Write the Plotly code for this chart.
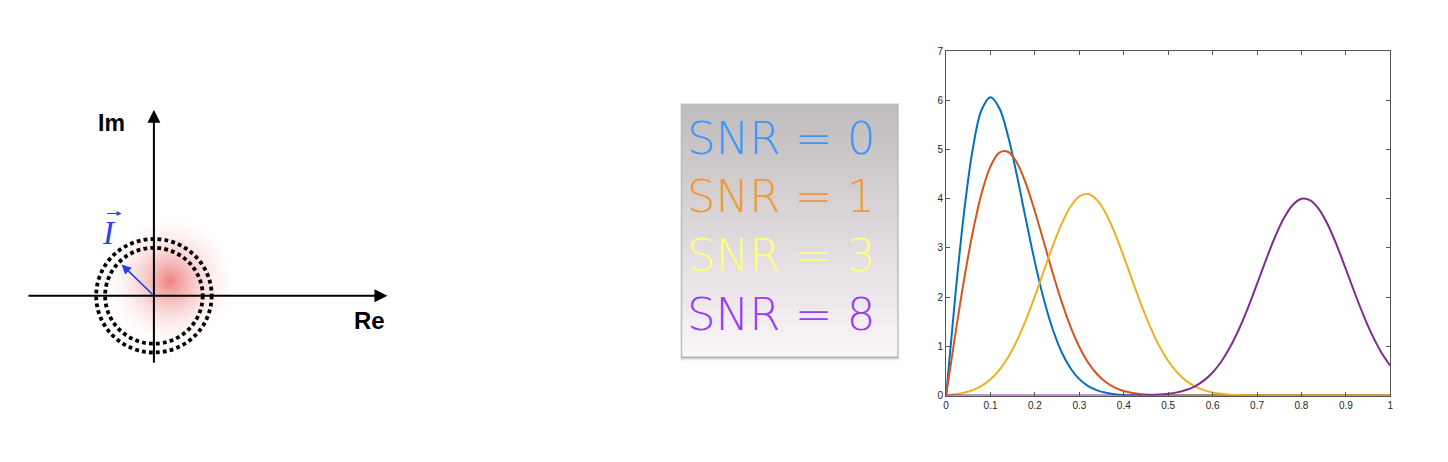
import plotly.graph_objects as go

# %% data: Rice pdfs for 4 SNR values
x_vals = [round(0.02 * i, 2) for i in range(51)]

snr_0 = [0, 1.960, 3.692, 5.012, 5.809, 6.065, 5.841, 5.254, 4.449, 3.562,
         2.707, 1.956, 1.347, 0.885, 0.556, 0.333, 0.191, 0.105, 0.055, 0.028,
         0.013, 0.006, 0.003, 0.001, 0, 0, 0, 0, 0, 0,
         0, 0, 0, 0, 0, 0, 0, 0, 0, 0,
         0, 0, 0, 0, 0, 0, 0, 0, 0, 0, 0]
snr_1 = [0, 1.201, 2.330, 3.320, 4.110, 4.658, 4.938, 4.951, 4.722, 4.299,
         3.742, 3.119, 2.492, 1.908, 1.401, 0.987, 0.666, 0.432, 0.269, 0.161,
         0.092, 0.051, 0.027, 0.014, 0.007, 0.003, 0.001, 0.001, 0, 0,
         0, 0, 0, 0, 0, 0, 0, 0, 0, 0,
         0, 0, 0, 0, 0, 0, 0, 0, 0, 0, 0]
snr_3 = [0, 0.024, 0.057, 0.111, 0.197, 0.329, 0.521, 0.785, 1.127, 1.543,
         2.021, 2.532, 3.037, 3.488, 3.838, 4.049, 4.095, 3.971, 3.695, 3.298,
         2.825, 2.322, 1.831, 1.387, 1.008, 0.703, 0.471, 0.303, 0.187, 0.111,
         0.063, 0.035, 0.018, 0.009, 0.004, 0.002, 0.001, 0, 0, 0,
         0, 0, 0, 0, 0, 0, 0, 0, 0, 0, 0]
snr_8 = [0, 0, 0, 0, 0, 0, 0, 0, 0, 0,
         0, 0, 0, 0, 0, 0, 0, 0, 0, 0,
         0.001, 0.002, 0.005, 0.009, 0.019, 0.035, 0.064, 0.112, 0.188, 0.303,
         0.469, 0.697, 0.995, 1.363, 1.794, 2.269, 2.754, 3.212, 3.597, 3.869,
         3.998, 3.967, 3.781, 3.462, 3.044, 2.571, 2.086, 1.626, 1.217, 0.875, 0.605]

series = [snr_0, snr_1, snr_3, snr_8]
line_colors = ['#0072BD', '#D95319', '#EDB120', '#7E2F8E']

legend_labels = ['SNR = 0', 'SNR = 1', 'SNR = 3', 'SNR = 8']
legend_colors = ['#3d97f5', '#f0983a', '#fdfd80', '#9a3cf5']

x_ticks = [round(0.1 * i, 1) for i in range(11)]
y_ticks = list(range(8))

W, H = 1448, 462
OFF = 8  # page margin around the plot div

fig = go.Figure()

# %% right plot
for ys, c in zip(series, line_colors):
    fig.add_trace(go.Scatter(x=x_vals, y=ys, mode='lines', line=dict(color=c, width=2, shape='spline'),
                             showlegend=False, hoverinfo='skip'))

axis_style = dict(showgrid=False, zeroline=False, showline=True, linecolor='#555555', linewidth=1,
                  mirror='ticks', ticks='inside', ticklen=4, tickcolor='#555555',
                  tickfont=dict(family='Liberation Sans', size=10, color='#262626'))

fig.update_layout(
    xaxis=dict(domain=[(947 - OFF) / W, (1393 - OFF) / W], range=[0, 1], tickvals=x_ticks,
               ticktext=['0'] + [str(t) for t in x_ticks[1:-1]] + ['1'], **axis_style),
    yaxis=dict(domain=[1 - (399 - OFF) / H, 1 - (47 - OFF) / H], range=[0, 7], tickvals=y_ticks, **axis_style),
    # pixel-space axes over the whole page, for the diagram and the label box
    xaxis2=dict(domain=[0, 1], range=[OFF, W + OFF], visible=False, fixedrange=True, anchor='y2'),
    yaxis2=dict(domain=[0, 1], range=[H + OFF, OFF], visible=False, fixedrange=True, anchor='x2'),
)

# red glow in the complex plane
fig.add_trace(go.Scatter(x=[168], y=[282], xaxis='x2', yaxis='y2', mode='markers',
                         marker=dict(size=140, color='rgba(255,255,255,0)', line=dict(width=0),
                                     gradient=dict(type='radial', color='rgba(236,115,115,0.9)')),
                         showlegend=False, hoverinfo='skip'))

shapes = []
# dotted double circle
cx, cy = 151.5, 297
for r in (58, 49):
    shapes.append(dict(type='circle', xref='x2', yref='y2', x0=cx - r, x1=cx + r, y0=cy - r, y1=cy + r,
                       line=dict(color='black', width=3.8, dash='3.8px,3.2px')))

# label box: shadow + vertical gradient
bx0, bx1, by0, by1 = 682, 898, 101, 359
shapes.append(dict(type='rect', xref='x2', yref='y2', x0=bx0 - 2, x1=bx1 + 2, y0=by0 - 1, y1=by1 + 4,
                   fillcolor='rgba(0,0,0,0.1)', line=dict(width=0), layer='below'))
shapes.append(dict(type='rect', xref='x2', yref='y2', x0=bx0 - 1, x1=bx1 + 1, y0=by0, y1=by1 + 2,
                   fillcolor='rgba(0,0,0,0.22)', line=dict(width=0), layer='below'))
n_strips = 64
top, bot = (192, 188, 189), (249, 245, 249)
for i in range(n_strips):
    t = i / (n_strips - 1)
    col = tuple(round(a + (b - a) * t) for a, b in zip(top, bot))
    y0 = by0 + (by1 - by0) * i / n_strips
    y1 = by0 + (by1 - by0) * (i + 1) / n_strips + 0.6
    shapes.append(dict(type='rect', xref='x2', yref='y2', x0=bx0, x1=bx1, y0=y0, y1=min(y1, by1),
                       fillcolor='rgb(%d,%d,%d)' % col, line=dict(width=0), layer='below'))

annotations = []
# complex plane axes with arrowheads
annotations.append(dict(xref='x2', yref='y2', axref='x2', ayref='y2', x=386, y=cy, ax=24, ay=cy,
                        showarrow=True, arrowhead=2, arrowsize=1.3, arrowwidth=2, arrowcolor='black', text=''))
annotations.append(dict(xref='x2', yref='y2', axref='x2', ayref='y2', x=cx, y=107, ax=cx, ay=367,
                        showarrow=True, arrowhead=2, arrowsize=1.3, arrowwidth=2, arrowcolor='black', text=''))
# intensity vector
annotations.append(dict(xref='x2', yref='y2', axref='x2', ayref='y2', x=119, y=265, ax=cx, ay=cy,
                        showarrow=True, arrowhead=2, arrowsize=1.2, arrowwidth=1.6, arrowcolor='#1f3ff0', text=''))
# vector arrow over the I
annotations.append(dict(xref='x2', yref='y2', axref='x2', ayref='y2', x=119, y=213, ax=103, ay=213,
                        showarrow=True, arrowhead=2, arrowsize=0.9, arrowwidth=1.1, arrowcolor='#2a3ff0', text=''))
annotations.append(dict(xref='x2', yref='y2', x=109, y=120, text='<b>Im</b>', showarrow=False,
                        font=dict(family='Liberation Sans', size=23, color='black')))
annotations.append(dict(xref='x2', yref='y2', x=368, y=322, text='<b>Re</b>', showarrow=False,
                        font=dict(family='Liberation Sans', size=24, color='black')))
annotations.append(dict(xref='x2', yref='y2', x=106, y=233, text='<i>I</i>', showarrow=False,
                        font=dict(family='Liberation Serif', size=33, color='#2a3ff0')))

# SNR labels
for i, (lab, col) in enumerate(zip(legend_labels, legend_colors)):
    annotations.append(dict(xref='x2', yref='y2', x=685, y=136 + 60 * i, text=lab, showarrow=False,
                            xanchor='left', yanchor='middle',
                            font=dict(family='DejaVu Sans', size=45, color=col, weight=300)))

fig.update_layout(shapes=shapes, annotations=annotations, width=W, height=H,
                  margin=dict(l=0, r=0, t=0, b=0), plot_bgcolor='rgba(0,0,0,0)', paper_bgcolor='white')

fig.write_html("out.html")
